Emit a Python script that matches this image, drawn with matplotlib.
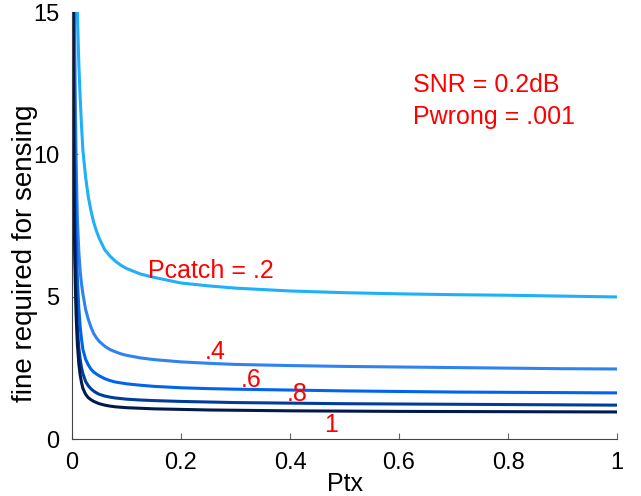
import matplotlib.pyplot as plt

plt.rcParams['font.family'] = ['Liberation Sans', 'DejaVu Sans']

# Ptx grid shared by every curve
ptx = [0.002, 0.0025, 0.003, 0.0035, 0.004, 0.005, 0.006, 0.0075, 0.009, 0.01,
       0.0125, 0.015, 0.0175, 0.02, 0.025, 0.03, 0.035, 0.04, 0.045, 0.05,
       0.06, 0.07, 0.08, 0.09, 0.1, 0.125, 0.15, 0.2, 0.25, 0.3,
       0.4, 0.5, 0.6, 0.7, 0.8, 0.9, 1.0]

# fine required for sensing, one list per Pcatch
fine_p02 = [50, 42, 36, 32, 29, 24, 21, 17.8, 15.8, 14.9,
            13.2, 12.0, 11.0, 10.15, 9.2, 8.5, 8.0, 7.6, 7.3, 7.05,
            6.65, 6.42, 6.24, 6.10, 5.99, 5.80, 5.68, 5.48, 5.38, 5.30,
            5.20, 5.14, 5.10, 5.07, 5.05, 5.02, 4.99]
fine_p04 = [35, 28, 23.5, 20, 17.5, 14.3, 12.2, 9.9, 8.5, 7.7,
            6.6, 5.9, 5.45, 5.1, 4.55, 4.2, 3.92, 3.70, 3.55, 3.43,
            3.26, 3.14, 3.06, 2.99, 2.94, 2.85, 2.79, 2.71, 2.66, 2.62,
            2.58, 2.55, 2.53, 2.51, 2.49, 2.47, 2.46]
fine_p06 = [26, 21, 17.5, 15, 13.2, 10.7, 9.0, 7.3, 6.2, 5.6,
            4.6, 3.95, 3.5, 3.15, 2.8, 2.6, 2.45, 2.35, 2.28, 2.22,
            2.12, 2.05, 2.0, 1.97, 1.94, 1.89, 1.85, 1.80, 1.77, 1.75,
            1.72, 1.69, 1.67, 1.65, 1.64, 1.63, 1.62]
fine_p08 = [18, 14.5, 12.2, 10.5, 9.3, 7.5, 6.3, 5.1, 4.3, 3.9,
            3.2, 2.8, 2.5, 2.3, 2.02, 1.87, 1.76, 1.68, 1.62, 1.57,
            1.51, 1.47, 1.44, 1.42, 1.40, 1.37, 1.35, 1.32, 1.30, 1.28,
            1.26, 1.24, 1.23, 1.22, 1.21, 1.20, 1.19]
fine_p10 = [15.5, 12.5, 10.5, 9.1, 8.0, 6.5, 5.5, 4.4, 3.7, 3.3,
            2.65, 2.25, 1.98, 1.78, 1.57, 1.45, 1.38, 1.32, 1.28, 1.24,
            1.19, 1.155, 1.13, 1.115, 1.10, 1.08, 1.06, 1.04, 1.02, 1.01,
            0.99, 0.98, 0.97, 0.965, 0.96, 0.955, 0.95]

curves = [fine_p02, fine_p04, fine_p06, fine_p08, fine_p10]
colors = ['#1eb0f8', '#2f82f2', '#0064f0', '#003c9c', '#001a4e']

# curve labels: text, x, baseline y
labels = ['Pcatch = .2', '.4', '.6', '.8', '1']
label_x = [0.139, 0.244, 0.3095, 0.394, 0.462]
label_y = [5.64, 2.81, 1.84, 1.33, 0.26]

fig = plt.figure(figsize=(6.41, 4.96), dpi=100)
ax = fig.add_axes([0.1123, 0.1149, 0.8503, 0.8609])

for vals, c in zip(curves, colors):
    ax.plot(ptx, vals, color=c, linewidth=2.2)

for t, x, y in zip(labels, label_x, label_y):
    ax.text(x, y, t, color='red', fontsize=18, ha='left', va='baseline')

ax.text(0.625, 12.19, 'SNR = 0.2dB', color='red', fontsize=18, ha='left', va='baseline')
ax.text(0.625, 11.06, 'Pwrong = .001', color='red', fontsize=18, ha='left', va='baseline')

ax.set_xlim(0, 1)
ax.set_ylim(0, 15)
ax.set_xticks([0, 0.2, 0.4, 0.6, 0.8, 1])
ax.set_xticklabels(['0', '0.2', '0.4', '0.6', '0.8', '1'])
ax.set_yticks([0, 5, 10, 15])

ax.set_xlabel('Ptx', fontsize=18, labelpad=-1)
ax.set_ylabel('fine required for sensing', fontsize=20)
ax.yaxis.set_label_coords(-0.062, 0.434)

for s in ['top', 'right']:
    ax.spines[s].set_visible(False)
for s in ['left', 'bottom']:
    ax.spines[s].set_color('#444444')
ax.tick_params(direction='in', length=4, color='#666666', labelsize=17)
ax.tick_params(axis='x', pad=9)
ax.tick_params(axis='y', pad=9)

fig.savefig('out.png', dpi=100)
